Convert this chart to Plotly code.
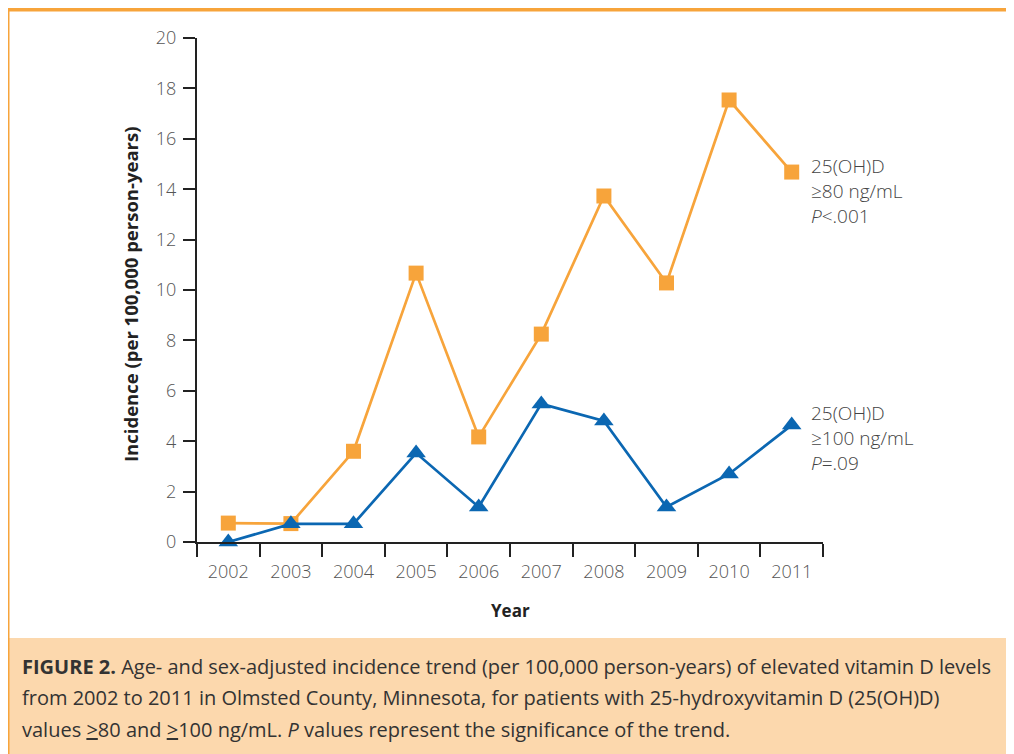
import plotly.graph_objects as go

years = ["2002", "2003", "2004", "2005", "2006", "2007", "2008", "2009", "2010", "2011"]
ge80 = [0.75, 0.73, 3.6, 10.67, 4.17, 8.25, 13.73, 10.28, 17.54, 14.68]
ge100 = [0.0, 0.72, 0.72, 3.53, 1.39, 5.48, 4.8, 1.39, 2.7, 4.64]
yticks = [0, 2, 4, 6, 8, 10, 12, 14, 16, 18, 20]

ORANGE = "#F7A43B"
BLUE = "#0B67B2"
PEACH = "#FCD8AD"
OFF = 8  # page body margin
W, H = 1014 - OFF, 754 - OFF
L, R, T, B = 197, 823, 38, 542  # page pixel positions of plot area

def px(x):
    return (x - L) / (R - L)

def py(y):
    return (B - y) / (B - T)

fig = go.Figure()
fig.add_trace(go.Scatter(x=years, y=ge80, mode="lines+markers",
                         line=dict(color=ORANGE, width=2.7),
                         marker=dict(symbol="square", size=15, color=ORANGE),
                         cliponaxis=False, showlegend=False))
fig.add_trace(go.Scatter(x=years, y=ge100, mode="lines+markers",
                         line=dict(color=BLUE, width=2.7),
                         marker=dict(symbol="triangle-up", size=17, color=BLUE),
                         cliponaxis=False, showlegend=False))

tickfont = dict(family="Open Sans", size=18, color="#555555", weight=300)

fig.update_layout(
    width=W, height=H, autosize=False,
    margin=dict(l=L - OFF, r=1014 - R, t=T - OFF, b=754 - B, pad=0),
    paper_bgcolor="white", plot_bgcolor="white",
    xaxis=dict(type="category", range=[-0.5, 9.5], showline=True, linecolor="#222222",
               linewidth=2, ticks="outside", tickson="boundaries", ticklen=13,
               tickwidth=2, tickcolor="#222222", showgrid=False, zeroline=False,
               tickfont=tickfont, ticklabelstandoff=12),
    yaxis=dict(range=[0, 20], tickvals=yticks, showline=True, linecolor="#222222",
               linewidth=2, ticks="outside", ticklen=12, tickwidth=2,
               tickcolor="#222222", showgrid=False, zeroline=False,
               tickfont=tickfont, ticklabelstandoff=3),
)

shapes = []
# caption background
shapes.append(dict(type="rect", xref="paper", yref="paper",
                   x0=px(6), x1=px(1020), y0=py(638), y1=py(760),
                   fillcolor=PEACH, line=dict(width=0), layer="below"))
# orange frame (left and top)
shapes.append(dict(type="line", xref="paper", yref="paper",
                   x0=px(7.5), x1=px(7.5), y0=py(7), y1=py(760),
                   line=dict(color=ORANGE, width=4)))
shapes.append(dict(type="line", xref="paper", yref="paper",
                   x0=px(5.5), x1=px(1020), y0=py(9.5), y1=py(9.5),
                   line=dict(color=ORANGE, width=4)))
fig.update_layout(shapes=shapes)

ann = []
def label(text, x, y, size=19, color="#444444", family="Open Sans", weight=300,
          xanchor="left", textangle=0):
    ann.append(dict(text=text, xref="paper", yref="paper", x=px(x), y=py(y),
                    xanchor=xanchor, yanchor="middle", showarrow=False,
                    textangle=textangle,
                    font=dict(family=family, size=size, color=color, weight=weight)))

label("25(OH)D", 809, 166)
label("≥80 ng/mL", 809, 191)
label("<i>P</i><.001", 809, 216)
label("25(OH)D", 809, 413)
label("≥100 ng/mL", 809, 438)
label("<i>P</i>=.09", 809, 463)

label("Incidence (per 100,000 person-years)", 130, 295, size=18.5, color="#222222",
      family="Open Sans", weight=700, xanchor="center", textangle=-90)
label("Year", 510, 610, size=17, color="#222222", family="Open Sans", weight=700,
      xanchor="center")

cap = dict(size=20, color="#333333", family="Open Sans", weight=400)
label("<b>FIGURE 2.</b> Age- and sex-adjusted incidence trend (per 100,000 person-years) of elevated vitamin D levels",
      20, 666, **cap)
label("from 2002 to 2011 in Olmsted County, Minnesota, for patients with 25-hydroxyvitamin D (25(OH)D)",
      20, 697, **cap)
label("values <u>&gt;</u>80 and <u>&gt;</u>100 ng/mL. <i>P</i> values represent the significance of the trend.",
      20, 729, **cap)

fig.update_layout(annotations=ann)
fig.write_html("out.html")
